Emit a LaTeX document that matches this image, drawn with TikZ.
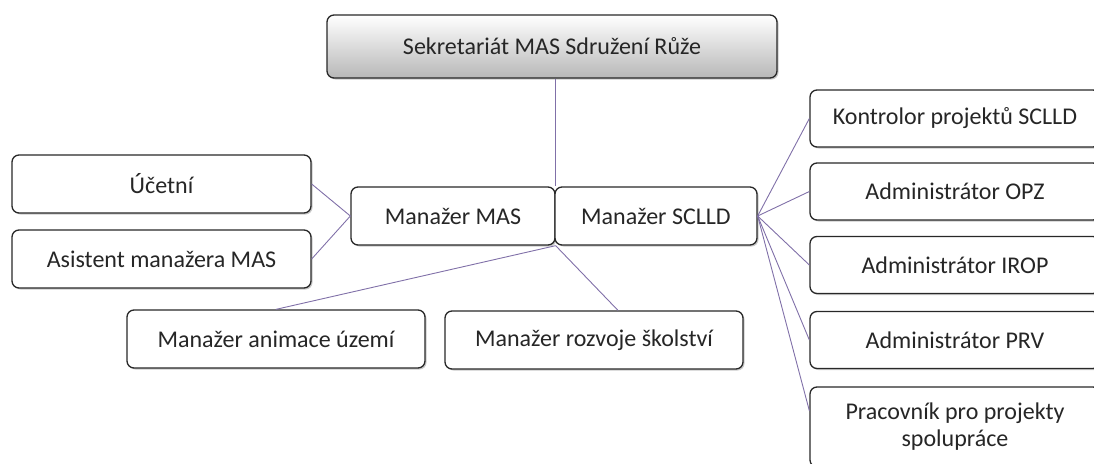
\documentclass[tikz,border=0pt]{standalone}
\usepackage{fontspec}
\setmainfont{Carlito}
\usetikzlibrary{shadows,calc}
\definecolor{linkc}{RGB}{128,112,168}
\definecolor{boxline}{RGB}{40,40,40}
\tikzset{
  box/.style={draw=boxline, line width=1.3pt, rounded corners=7pt, fill=white,
    align=center, inner sep=2pt, font=\fontsize{24}{27}\selectfont, text=black!85,
    drop shadow={shadow xshift=1.5pt, shadow yshift=-1.5pt, fill=black!35, opacity=0.6}},
  topbox/.style={box, top color=white, bottom color=black!28},
  link/.style={draw=linkc, line width=0.9pt},
}
\begin{document}
\begin{tikzpicture}[x=1pt,y=-1pt]
\useasboundingbox (0,0) rectangle (1094,463);
\node[topbox, minimum width=450pt, minimum height=63pt] (top) at (552,46.5) {Sekretariát MAS Sdružení Růže};
\node[box, minimum width=204pt, minimum height=58pt] (mas) at (453,216) {Manažer MAS};
\node[box, minimum width=202pt, minimum height=58pt] (scl) at (656,216) {Manažer SCLLD};
\node[box, minimum width=299pt, minimum height=58pt] (uc) at (161.5,184) {Účetní};
\node[box, minimum width=299pt, minimum height=58pt] (asi) at (161.5,259) {Asistent manažera MAS};
\node[box, minimum width=298pt, minimum height=58pt] (ani) at (276,339) {Manažer animace území};
\node[box, minimum width=298pt, minimum height=58pt] (roz) at (594,340) {Manažer rozvoje školství};
\node[box, minimum width=290pt, minimum height=57pt] (kon) at (955,118.5) {Kontrolor projektů SCLLD};
\node[box, minimum width=290pt, minimum height=57pt] (opz) at (955,191.5) {Administrátor OPZ};
\node[box, minimum width=290pt, minimum height=57pt] (irop) at (955,265) {Administrátor IROP};
\node[box, minimum width=290pt, minimum height=57pt] (prv) at (955,340) {Administrátor PRV};
\node[box, minimum width=290pt, minimum height=80pt] (pra) at (955,427) {Pracovník pro projekty\\spolupráce};
\draw[link] (top.south -| mas.north east) -- (mas.north east);
\draw[link] (uc.east) -- (mas.west);
\draw[link] (asi.east) -- (mas.west);
\draw[link] (ani.north) -- (mas.south east);
\draw[link] ($(roz.north west)!0.58!(roz.north east)$) -- (mas.south east);
\foreach \t in {kon,opz,irop,prv} \draw[link] (scl.east) -- (\t.west);
\draw[link] (scl.east) -- ($(pra.north west)!0.3!(pra.south west)$);
\end{tikzpicture}
\end{document}
